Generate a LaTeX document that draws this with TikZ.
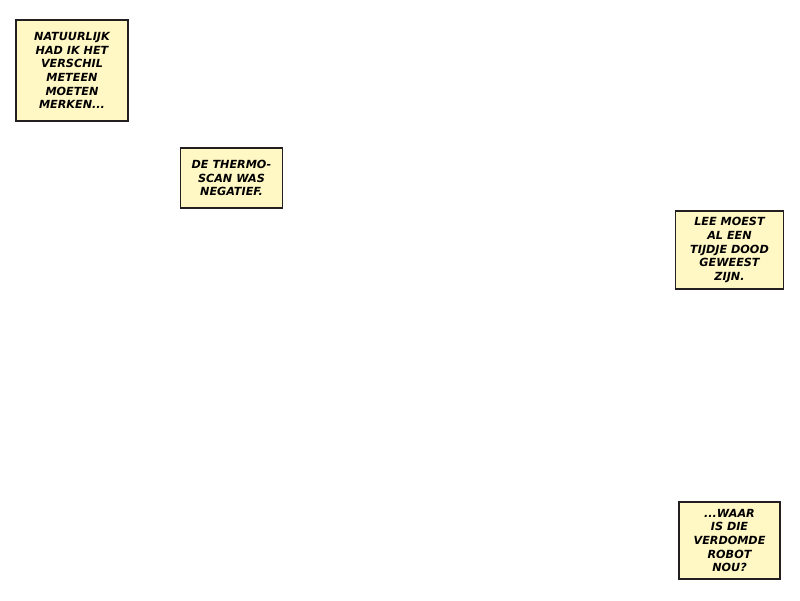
\documentclass[tikz,border=0pt]{standalone}
\usepackage{fontspec}
\setsansfont{DejaVu Sans}
\definecolor{capfill}{HTML}{FFF7C4}
\definecolor{capline}{HTML}{231F20}
\tikzset{
  caption/.style={draw=capline, line width=1.6pt, fill=capfill, align=center,
    inner sep=0pt, font=\sffamily\bfseries\itshape\fontsize{11.2}{13.7}\selectfont}
}
\begin{document}
\begin{tikzpicture}[x=1pt, y=-1pt]
    \useasboundingbox (0,0) rectangle (800,600);
    \node[caption, minimum width=112pt, minimum height=101pt] (natuurlijk) at (72,70.5)
        {NATUURLIJK\\HAD IK HET\\VERSCHIL\\METEEN\\MOETEN\\MERKEN...};
    \node[caption, minimum width=102pt, minimum height=60pt] (thermoscan) at (231.5,178)
        {DE THERMO-\\SCAN WAS\\NEGATIEF.};
    \node[caption, minimum width=108pt, minimum height=78pt] (lee) at (729.5,250)
        {LEE MOEST\\AL EEN\\TIJDJE DOOD\\GEWEEST\\ZIJN.};
    \node[caption, minimum width=101pt, minimum height=77pt] (robot) at (729.5,540.5)
        {...WAAR\\IS DIE\\VERDOMDE\\ROBOT\\NOU?};
\end{tikzpicture}
\end{document}
